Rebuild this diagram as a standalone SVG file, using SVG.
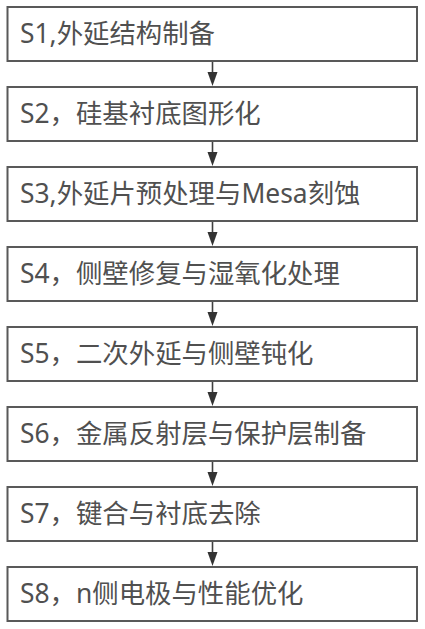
<svg xmlns="http://www.w3.org/2000/svg" width="425" height="629" viewBox="0 0 425 629">
<defs>
<style>
.box{fill:#ffffff;stroke:#595959;stroke-width:2}
.t{font-family:"Noto Sans","Noto Sans CJK SC",sans-serif;font-size:26.4px;fill:#505050}
.c{stroke:#404040;stroke-width:1.6;fill:none}
.h{fill:#333333}
</style>
</defs>
<rect width="425" height="629" fill="#ffffff"/>
<g id="connectors">
<line class="c" x1="212.5" y1="61" x2="212.5" y2="73"/><polygon class="h" points="207.5,72 217.5,72 212.5,86"/>
<line class="c" x1="212.5" y1="141" x2="212.5" y2="153"/><polygon class="h" points="207.5,152 217.5,152 212.5,166"/>
<line class="c" x1="212.5" y1="221" x2="212.5" y2="233"/><polygon class="h" points="207.5,232 217.5,232 212.5,246"/>
<line class="c" x1="212.5" y1="301" x2="212.5" y2="313"/><polygon class="h" points="207.5,312 217.5,312 212.5,326"/>
<line class="c" x1="212.5" y1="381" x2="212.5" y2="393"/><polygon class="h" points="207.5,392 217.5,392 212.5,406"/>
<line class="c" x1="212.5" y1="461" x2="212.5" y2="473"/><polygon class="h" points="207.5,472 217.5,472 212.5,486"/>
<line class="c" x1="212.5" y1="541" x2="212.5" y2="553"/><polygon class="h" points="207.5,552 217.5,552 212.5,566"/>
</g>
<g id="s1"><rect class="box" x="7.5" y="7" width="409.5" height="54"/><text class="t" x="20" y="42.5">S1,外延结构制备</text></g>
<g id="s2"><rect class="box" x="7.5" y="87" width="409.5" height="54"/><text class="t" x="20" y="122.5">S2，硅基衬底图形化</text></g>
<g id="s3"><rect class="box" x="7.5" y="167" width="409.5" height="54"/><text class="t" x="20" y="202.5">S3,外延片预处理与Mesa刻蚀</text></g>
<g id="s4"><rect class="box" x="7.5" y="247" width="409.5" height="54"/><text class="t" x="20" y="282.5">S4，侧壁修复与湿氧化处理</text></g>
<g id="s5"><rect class="box" x="7.5" y="327" width="409.5" height="54"/><text class="t" x="20" y="362.5">S5，二次外延与侧壁钝化</text></g>
<g id="s6"><rect class="box" x="7.5" y="407" width="409.5" height="54"/><text class="t" x="20" y="442.5">S6，金属反射层与保护层制备</text></g>
<g id="s7"><rect class="box" x="7.5" y="487" width="409.5" height="54"/><text class="t" x="20" y="522.5">S7，键合与衬底去除</text></g>
<g id="s8"><rect class="box" x="7.5" y="567" width="409.5" height="54"/><text class="t" x="20" y="602.5">S8，n侧电极与性能优化</text></g>
</svg>
